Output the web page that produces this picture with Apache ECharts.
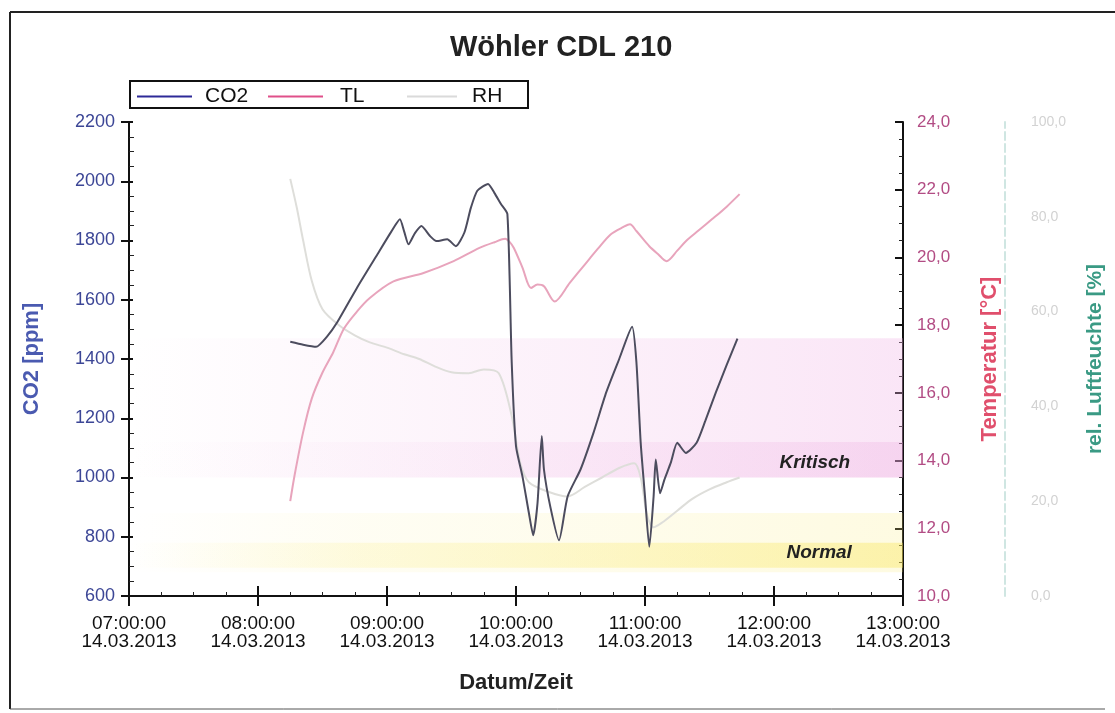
<!DOCTYPE html>
<html>
<head>
<meta charset="utf-8">
<script src="https://cdn.jsdelivr.net/npm/echarts@6/dist/echarts.min.js"></script>
<style>
html,body{margin:0;padding:0;background:#fff;}
#chart{width:1115px;height:713px;}
</style>
</head>
<body>
<div id="chart"></div>
<script>
// ---- data ----
const dateLabel = '14.03.2013';

const co2Times = ['08:15','08:21','08:27','08:32','08:37','08:46','08:55','09:02','09:06','09:08','09:10','09:13','09:16','09:20','09:23','09:28','09:32','09:36','09:39','09:42','09:47','09:50','09:53','09:56','09:58','10:00','10:03','10:06','10:08','10:10','10:12','10:13','10:16','10:20','10:24','10:30','10:36','10:42','10:48','10:54','10:56','10:58','11:00','11:02','11:04','11:05','11:07','11:09','11:12','11:15','11:19','11:24','11:28','11:33','11:38','11:43'];
const co2Values = [1458,1448,1441,1475,1526,1640,1747,1830,1872,1830,1787,1825,1849,1815,1798,1804,1781,1827,1910,1968,1991,1960,1923,1889,1390,1106,1004,880,805,913,1140,1027,900,788,936,1027,1150,1288,1400,1509,1390,1117,936,766,936,1061,947,992,1050,1117,1083,1117,1190,1288,1380,1469];

const tlTimes = ['08:15','08:17','08:21','08:25','08:30','08:35','08:40','08:46','08:52','09:03','09:17','09:31','09:43','09:50','09:55','09:57','09:59','10:03','10:07','10:10','10:13','10:18','10:25','10:32','10:38','10:44','10:50','10:53','10:56','11:02','11:06','11:10','11:15','11:19','11:25','11:32','11:38','11:44'];
const tlValues = [12.8,13.56,14.84,15.83,16.6,17.2,17.9,18.4,18.8,19.29,19.54,19.89,20.28,20.45,20.55,20.46,20.28,19.7,19.1,19.2,19.15,18.7,19.25,19.79,20.25,20.68,20.9,20.98,20.78,20.33,20.1,19.89,20.2,20.48,20.8,21.17,21.5,21.87];

const rhTimes = ['08:15','08:18','08:21','08:25','08:30','08:38','08:45','08:52','09:00','09:08','09:15','09:22','09:30','09:38','09:45','09:52','09:58','10:02','10:06','10:15','10:24','10:32','10:40','10:48','10:55','10:58','11:01','11:04','11:08','11:15','11:22','11:30','11:38','11:44'];
const rhValues = [88,82,75,66.5,60.5,57,55,53.5,52.4,51,50,48.5,47.2,47,47.8,47,38,28,24,22,21,23,25,27,28,25,17,14.5,15.5,18,20.5,22.5,24,25];

// zones
const kritischBand = [1000, 1470];
const kritischCore = [1000, 1120];
const normalBand = [680, 880];
const normalCore = [695, 780];
const kritischLabelPos = ['12:19', 1050];
const normalLabelPos = ['12:21', 745];

// ---- helpers ----
function toMin(t){ const p=t.split(':'); return (+p[0])*60 + (+p[1]); }
function zip(ts, vs){ return ts.map((t,i)=>[toMin(t), vs[i]]); }
function pad(n){ return (n<10?'0':'')+n; }

const chart = echarts.init(document.getElementById('chart'), null, {renderer:'canvas'});
const font = 'Liberation Sans, Arial, sans-serif';
const X0 = toMin('07:00'), X1 = toMin('13:00');

function grad(stops){ return {type:'linear',x:0,y:0,x2:1,y2:0,colorStops:stops}; }

const option = {
  animation:false,
  backgroundColor:'#ffffff',
  textStyle:{fontFamily:font},
  title:{
    text:'Wöhler CDL 210', left:450, top:33, padding:0,
    textStyle:{fontSize:29, fontWeight:'bold', color:'#222', fontFamily:font}
  },
  legend:[
    {data:[{name:'CO2', itemStyle:{color:'#2e2a98'}}], left:137, top:86, padding:0, icon:'rect', itemWidth:55, itemHeight:2,
     textStyle:{fontSize:21, color:'#111', padding:[0,0,0,8]}},
    {data:[{name:'TL', itemStyle:{color:'#e0508a'}}], left:268, top:86, padding:0, icon:'rect', itemWidth:55, itemHeight:2,
     textStyle:{fontSize:21, color:'#111', padding:[0,0,0,12]}},
    {data:[{name:'RH', itemStyle:{color:'#dadada'}}], left:407, top:86, padding:0, icon:'rect', itemWidth:50, itemHeight:2,
     textStyle:{fontSize:21, color:'#111', padding:[0,0,0,10]}}
  ],
  grid:{left:129, right:212, top:122, bottom:117, containLabel:false},
  xAxis:[
    {type:'value', min:X0, max:X1, interval:60, position:'bottom',
     axisLine:{lineStyle:{color:'#111', width:2}},
     axisTick:{show:true, length:10, inside:false, lineStyle:{color:'#111', width:2}},
     axisLabel:{fontSize:19, color:'#111', lineHeight:18, margin:19,
       formatter:(v)=> pad(Math.floor(v/60))+':'+pad(v%60)+':00\n'+dateLabel},
     splitLine:{show:false},
     name:'Datum/Zeit', nameLocation:'middle', nameGap:76,
     nameTextStyle:{fontSize:22, fontWeight:'bold', color:'#222'}
    },
    {type:'value', min:X0, max:X1, interval:60, position:'bottom',
     axisLine:{show:false}, axisLabel:{show:false}, splitLine:{show:false},
     axisTick:{show:true, inside:true, length:10, lineStyle:{color:'#111', width:2}},
     minorTick:{show:true, splitNumber:4, length:4, lineStyle:{color:'#222', width:1}}
    }
  ],
  yAxis:[
    {type:'value', min:600, max:2200, interval:200, position:'left',
     axisLine:{show:true, lineStyle:{color:'#111', width:2}},
     axisTick:{show:true, length:8, lineStyle:{color:'#111', width:2}},
     axisLabel:{fontSize:18, color:'#3c4696', margin:14, formatter:(v)=>String(v)},
     splitLine:{show:false},
     name:'CO2 [ppm]', nameLocation:'middle', nameGap:86,
     nameTextStyle:{fontSize:22, fontWeight:'bold', color:'#4a5ab0'}
    },
    {type:'value', min:10, max:24, interval:2, position:'right',
     axisLine:{show:true, lineStyle:{color:'#111', width:2}},
     axisTick:{show:true, inside:true, length:8, lineStyle:{color:'#111', width:2}},
     minorTick:{show:true, splitNumber:4, length:4, lineStyle:{color:'#222'}},
     axisLabel:{fontSize:17, color:'#b24c84', margin:14, formatter:(v)=>v.toFixed(1).replace('.',',')},
     splitLine:{show:false},
     name:'Temperatur [°C]', nameLocation:'middle', nameGap:76,
     nameTextStyle:{fontSize:22, fontWeight:'bold', color:'#e04f6c'}
    },
    {type:'value', min:0, max:100, interval:20, position:'right', offset:102,
     axisLine:{show:true, lineStyle:{color:'#cfe6e2', width:2, type:'dashed'}},
     axisTick:{show:false},
     axisLabel:{fontSize:14, color:'#d2d2d2', margin:26, formatter:(v)=>v.toFixed(1).replace('.',',')},
     splitLine:{show:false},
     name:'rel. Luftfeuchte [%]', nameLocation:'middle', nameGap:80,
     nameTextStyle:{fontSize:21, fontWeight:'bold', color:'#3a9a84'}
    },
    {type:'value', min:600, max:2200, interval:200, position:'left',
     axisLine:{show:false}, axisLabel:{show:false}, splitLine:{show:false},
     axisTick:{show:true, inside:true, length:4, lineStyle:{color:'#111', width:2}},
     minorTick:{show:true, splitNumber:4, length:5, lineStyle:{color:'#222'}}
    }
  ],
  series:[
    {name:'CO2', type:'line', xAxisIndex:0, yAxisIndex:0, data:zip(co2Times, co2Values),
     showSymbol:false, symbol:'none', smooth:0.2, z:4,
     lineStyle:{color:'#4c4c5e', width:2},
     itemStyle:{color:'#2e2a98'},
     markArea:{silent:true, data:[
       [{yAxis:kritischBand[0], xAxis:X0, itemStyle:{color:grad([
          {offset:0,color:'rgba(242,190,232,0)'},{offset:0.45,color:'rgba(242,190,232,0.18)'},{offset:1,color:'rgba(240,175,228,0.32)'}])}},
        {yAxis:kritischBand[1], xAxis:X1}],
       [{yAxis:kritischCore[0], xAxis:X0, itemStyle:{color:grad([
          {offset:0,color:'rgba(235,160,220,0)'},{offset:0.4,color:'rgba(235,160,220,0.08)'},{offset:1,color:'rgba(232,150,215,0.22)'}])}},
        {yAxis:kritischCore[1], xAxis:X1}],
       [{yAxis:normalBand[0], xAxis:X0, itemStyle:{color:grad([
          {offset:0,color:'rgba(250,238,140,0)'},{offset:0.3,color:'rgba(250,238,140,0.1)'},{offset:1,color:'rgba(250,235,120,0.22)'}])}},
        {yAxis:normalBand[1], xAxis:X1}],
       [{yAxis:normalCore[0], xAxis:X0, itemStyle:{color:grad([
          {offset:0,color:'rgba(250,232,90,0)'},{offset:0.3,color:'rgba(250,232,90,0.16)'},{offset:1,color:'rgba(248,228,80,0.38)'}])}},
        {yAxis:normalCore[1], xAxis:X1}]
     ]},
     markPoint:{silent:true, symbol:'circle', symbolSize:1, itemStyle:{color:'rgba(0,0,0,0)'},
       label:{show:true, position:'inside', fontSize:19, fontWeight:'bold', fontStyle:'italic', color:'#222'},
       data:[
         {coord:[toMin(kritischLabelPos[0]), kritischLabelPos[1]], label:{formatter:'Kritisch'}},
         {coord:[toMin(normalLabelPos[0]), normalLabelPos[1]], label:{formatter:'Normal'}}
       ]}
    },
    {name:'TL', type:'line', xAxisIndex:0, yAxisIndex:1, data:zip(tlTimes, tlValues),
     showSymbol:false, symbol:'none', smooth:0.3, z:3,
     lineStyle:{color:'#e8a4bc', width:2}, itemStyle:{color:'#e0508a'}},
    {name:'RH', type:'line', xAxisIndex:0, yAxisIndex:2, data:zip(rhTimes, rhValues),
     showSymbol:false, symbol:'none', smooth:0.3, z:2,
     lineStyle:{color:'#dededa', width:2}, itemStyle:{color:'#dadada'}}
  ],
  graphic:[
    {type:'rect', shape:{x:130, y:81, width:398, height:27}, style:{fill:'none', stroke:'#111', lineWidth:2}, z:100},
    {type:'line', shape:{x1:10, y1:12, x2:1115, y2:12}, style:{stroke:'#222', lineWidth:2}},
    {type:'line', shape:{x1:10, y1:12, x2:10, y2:709}, style:{stroke:'#222', lineWidth:2}},
    {type:'line', shape:{x1:10, y1:709, x2:1105, y2:709}, style:{stroke:'#555', lineWidth:1}}
  ]
};
chart.setOption(option);
</script>
</body>
</html>
